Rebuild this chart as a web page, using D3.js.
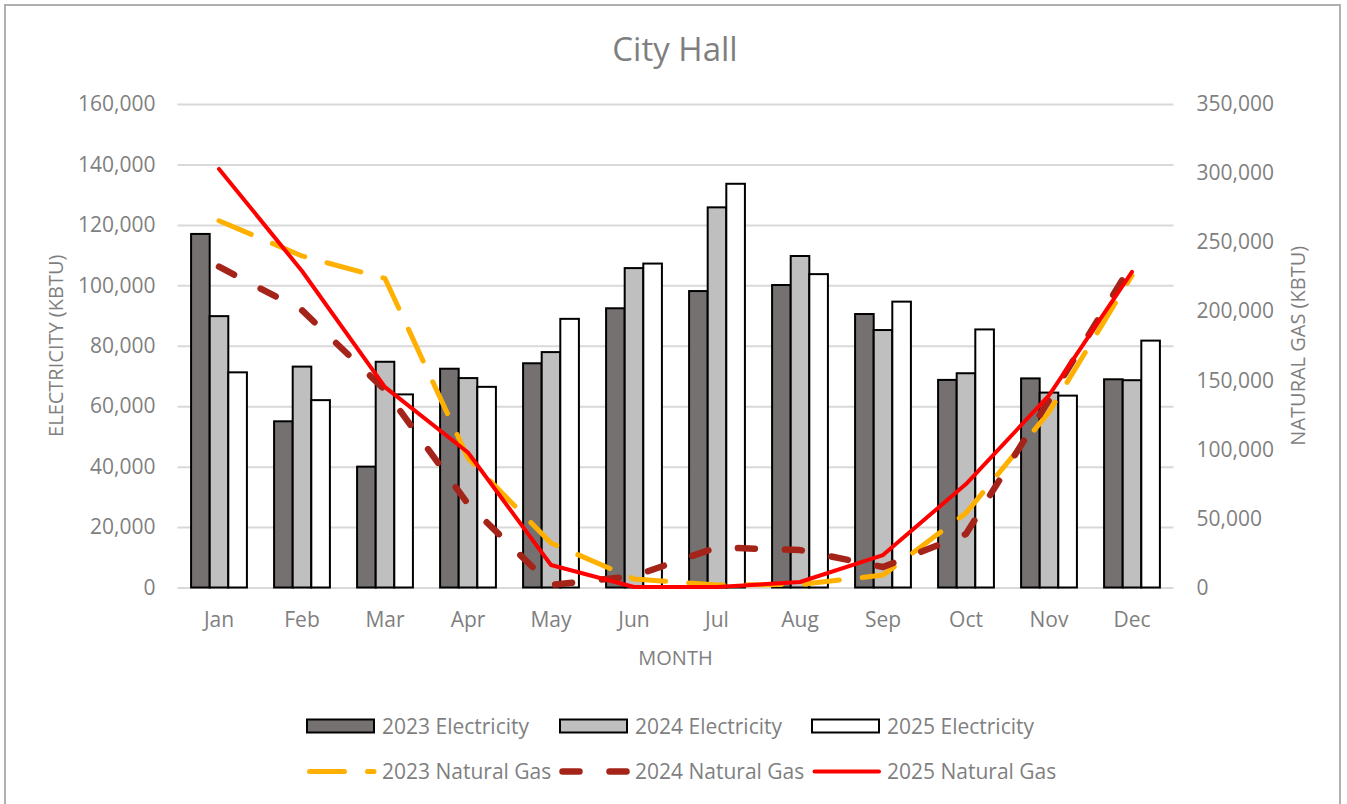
<!DOCTYPE html>
<html>
<head>
<meta charset="utf-8">
<script src="https://cdn.jsdelivr.net/npm/d3@7"></script>
<style>
  html, body { margin: 0; padding: 0; background: #fff; }
  svg { display: block; font-family: "Open Sans", sans-serif; }
</style>
</head>
<body>
<svg id="chart" width="1347" height="804"></svg>
<script>
const months = ["Jan","Feb","Mar","Apr","May","Jun","Jul","Aug","Sep","Oct","Nov","Dec"];
const elecSeries = ["2023 Electricity","2024 Electricity","2025 Electricity"];
const elec2023 = [117000, 55000, 40000, 72400, 74200, 92400, 98100, 100100, 90500, 68700, 69200, 68900];
const elec2024 = [89800, 73100, 74700, 69300, 77900, 105700, 125800, 109700, 85200, 70900, 64500, 68600];
const elec2025 = [71200, 62000, 63900, 66400, 88900, 107200, 133600, 103700, 94600, 85400, 63500, 81700];
const gasSeries = ["2023 Natural Gas","2024 Natural Gas","2025 Natural Gas"];
const gas2023 = [265500, 240000, 223700, 93700, 32200, 6200, 1800, 2200, 9000, 53900, 127000, 225800];
const gas2024 = [232200, 200700, 143000, 60400, 1800, 8300, 29000, 27100, 14800, 38700, 135700, 234200];
const gas2025 = [303000, 229100, 145100, 97700, 16300, 400, 300, 4000, 23500, 74900, 139000, 228400];
const leftTicks = [0, 20000, 40000, 60000, 80000, 100000, 120000, 140000, 160000];
const rightTicks = [0, 50000, 100000, 150000, 200000, 250000, 300000, 350000];

const elecData = [elec2023, elec2024, elec2025];
const gasData = [gas2023, gas2024, gas2025];
const barFills = ["#767171", "#bfbfbf", "#ffffff"];
const lineStyles = [
  {color: "#ffb000", width: 5, dash: "35,23"},
  {color: "#a5241a", width: 6.5, dash: "17,30"},
  {color: "#ff0000", width: 4, dash: null}
];
const textColor = "#7f7f7f";

const svg = d3.select("#chart");
const m = {left: 177.5, right: 1173.5, top: 104, bottom: 587.5};

// border
svg.append("rect").attr("x", 5).attr("y", 5).attr("width", 1335).attr("height", 820)
  .attr("fill", "#fff").attr("stroke", "#b0b0b0").attr("stroke-width", 2);

const x = d3.scaleBand().domain(months).range([m.left, m.right]).padding(0);
const xs = d3.scaleBand().domain(elecSeries).range([0, x.bandwidth()]).paddingInner(0).paddingOuter(0.73);
const yL = d3.scaleLinear().domain([0, 160000]).range([m.bottom, m.top]);
const yR = d3.scaleLinear().domain([0, 350000]).range([m.bottom, m.top]);

// gridlines
const grid = svg.append("g").attr("transform", `translate(${m.left},0)`)
  .call(d3.axisLeft(yL).tickValues(leftTicks).tickSize(-(m.right - m.left)).tickFormat(""));
grid.select(".domain").remove();
grid.selectAll("line").attr("stroke", "#d9d9d9").attr("stroke-width", 2);

// left axis
const gL = svg.append("g").attr("transform", `translate(${m.left},0)`)
  .call(d3.axisLeft(yL).tickValues(leftTicks).tickSize(0).tickPadding(22).tickFormat(d3.format(",")));
gL.select(".domain").remove();
gL.selectAll("text").attr("fill", textColor).style("font-size", "21px").style("font-family", "Open Sans");

// right axis
const gR = svg.append("g").attr("transform", `translate(${m.right},0)`)
  .call(d3.axisRight(yR).tickValues(rightTicks).tickSize(0).tickPadding(23).tickFormat(d3.format(",")));
gR.select(".domain").remove();
gR.selectAll("text").attr("fill", textColor).style("font-size", "21px").style("font-family", "Open Sans");

// bottom axis
const gB = svg.append("g").attr("transform", `translate(0,${m.bottom})`)
  .call(d3.axisBottom(x).tickSize(0).tickPadding(25));
gB.select(".domain").remove();
gB.selectAll("text").attr("fill", textColor).style("font-size", "21px").style("font-family", "Open Sans");

// bars
elecSeries.forEach((s, i) => {
  svg.append("g").selectAll("rect").data(elecData[i]).join("rect")
    .attr("x", (d, j) => x(months[j]) + xs(s))
    .attr("y", d => yL(d))
    .attr("width", xs.bandwidth())
    .attr("height", d => yL(0) - yL(d))
    .attr("fill", barFills[i]).attr("stroke", "#000").attr("stroke-width", 2);
});

// lines
const line = d3.line().x((d, j) => x(months[j]) + x.bandwidth() / 2).y(d => yR(d));
gasSeries.forEach((s, i) => {
  const st = lineStyles[i];
  const p = svg.append("path").datum(gasData[i]).attr("d", line)
    .attr("fill", "none").attr("stroke", st.color).attr("stroke-width", st.width)
    .attr("stroke-linecap", "round").attr("stroke-linejoin", "round");
  if (st.dash) p.attr("stroke-dasharray", st.dash);
});

// title
svg.append("text").attr("x", 675).attr("y", 61).attr("text-anchor", "middle")
  .attr("fill", textColor).style("font-size", "33px").text("City Hall");

// axis titles
svg.append("text").attr("transform", `translate(63,${(m.top + m.bottom) / 2}) rotate(-90)`)
  .attr("text-anchor", "middle").attr("fill", textColor).style("font-size", "20px").text("ELECTRICITY (KBTU)");
svg.append("text").attr("transform", `translate(1305,${(m.top + m.bottom) / 2}) rotate(-90)`)
  .attr("text-anchor", "middle").attr("fill", textColor).style("font-size", "20px").text("NATURAL GAS (KBTU)");
svg.append("text").attr("x", (m.left + m.right) / 2).attr("y", 665).attr("text-anchor", "middle")
  .attr("fill", textColor).style("font-size", "20px").text("MONTH");

// legend
const legX = [307, 560, 812];
elecSeries.forEach((s, i) => {
  svg.append("rect").attr("x", legX[i]).attr("y", 719.5).attr("width", 67).attr("height", 13)
    .attr("fill", barFills[i]).attr("stroke", "#000").attr("stroke-width", 2);
  svg.append("text").attr("x", legX[i] + 75).attr("y", 733.5).attr("fill", textColor)
    .style("font-size", "21px").text(s);
});
gasSeries.forEach((s, i) => {
  const st = lineStyles[i];
  const l = svg.append("line").attr("x1", legX[i] + 2.5).attr("x2", legX[i] + 67).attr("y1", 771.5).attr("y2", 771.5)
    .attr("stroke", st.color).attr("stroke-width", st.width).attr("stroke-linecap", "round");
  if (st.dash) l.attr("stroke-dasharray", st.dash);
  svg.append("text").attr("x", legX[i] + 75).attr("y", 778.5).attr("fill", textColor)
    .style("font-size", "21px").text(s);
});
</script>
</body>
</html>
